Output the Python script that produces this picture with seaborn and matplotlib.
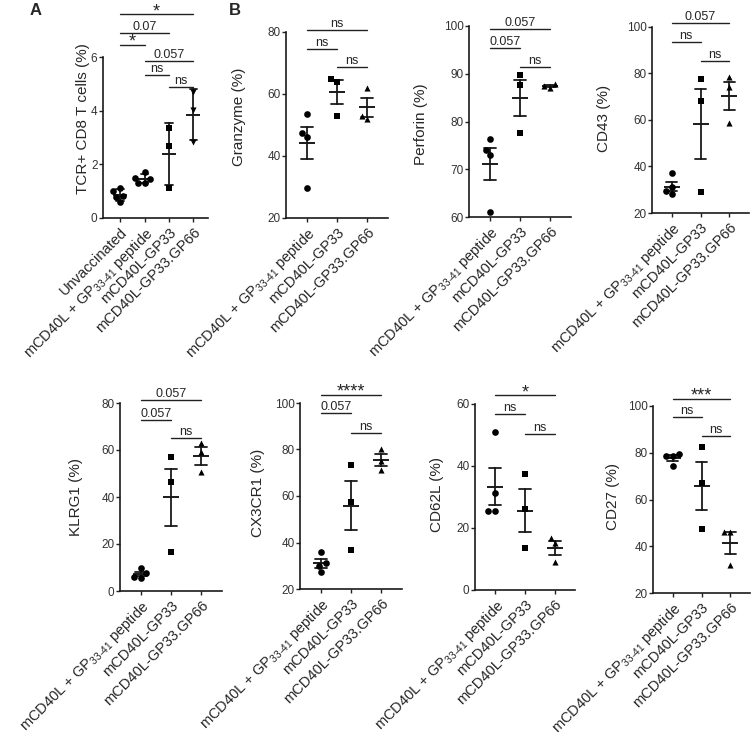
import numpy as np
import pandas as pd
import matplotlib.pyplot as plt
import seaborn as sns

sns.set_style('ticks')
plt.rcParams['font.family'] = ['Liberation Sans', 'DejaVu Sans']
plt.rcParams['mathtext.fontset'] = 'custom'
plt.rcParams['mathtext.rm'] = 'Liberation Sans'
plt.rcParams['mathtext.default'] = 'regular'

###DATA###
pep_label = r'mCD40L + GP$_{\text{33-41}}$ peptide'
labels_a = ['Unvaccinated', pep_label, 'mCD40L-GP33', 'mCD40L-GP33.GP66']
labels_b = [pep_label, 'mCD40L-GP33', 'mCD40L-GP33.GP66']

# panel A: TCR+ CD8 T cells (%)
tcr_unvac = [1.12, 1.0, 0.82, 0.78, 0.58]
tcr_pep = [1.72, 1.5, 1.46, 1.32, 1.3]
tcr_gp33 = [3.34, 2.69, 1.11]
tcr_gp66 = [4.70, 4.02, 2.85]

# panel B: peptide, GP33, GP33.GP66
granzyme = [[53.7, 47.5, 46.0, 29.6], [65.0, 64.0, 53.0], [62.0, 53.0, 52.0]]
perforin = [[76.4, 74.1, 72.9, 61.0], [89.7, 87.6, 77.5], [87.8, 87.4, 87.0]]
cd43 = [[37.0, 31.0, 29.5, 28.0], [77.6, 68.3, 28.9], [78.3, 74.0, 58.6]]
klrg1 = [[9.8, 7.5, 6.0, 5.5], [56.9, 46.5, 16.4], [63.0, 59.0, 50.5]]
cx3cr1 = [[35.8, 31.0, 30.0, 27.2], [73.5, 57.3, 36.9], [80.2, 75.0, 71.2]]
cd62l = [[51.1, 31.2, 25.6, 25.6], [37.4, 26.1, 13.4], [16.7, 15.1, 9.1]]
cd27 = [[79.3, 78.8, 78.5, 74.3], [82.5, 67.2, 47.3], [45.9, 45.9, 32.1]]

# significance: (group1, group2, height, label)
sig_a = [(0, 3, 7.59, '*'), (0, 2, 6.9, '0.07'), (0, 1, 6.46, '*'),
         (1, 3, 5.84, '0.057'), (1, 2, 5.32, 'ns'), (2, 3, 4.89, 'ns')]
sig_granzyme = [(0, 2, 80.75, 'ns'), (0, 1, 74.6, 'ns'), (1, 2, 68.75, 'ns')]
sig_perforin = [(0, 2, 99.3, '0.057'), (0, 1, 95.3, '0.057'), (1, 2, 91.5, 'ns')]
sig_cd43 = [(0, 2, 101.7, '0.057'), (0, 1, 93.6, 'ns'), (1, 2, 85.3, 'ns')]
sig_klrg1 = [(0, 2, 81.1, '0.057'), (0, 1, 72.9, '0.057'), (1, 2, 65.1, 'ns')]
sig_cx3cr1 = [(0, 2, 103.6, '****'), (0, 1, 95.7, '0.057'), (1, 2, 87.1, 'ns')]
sig_cd62l = [(0, 2, 62.9, '*'), (0, 1, 56.8, 'ns'), (1, 2, 50.3, 'ns')]
sig_cd27 = [(0, 2, 103.1, '***'), (0, 1, 95.3, 'ns'), (1, 2, 87.2, 'ns')]

W, H = 751, 736


def add_ax(fig, box):
	'''axes from pixel coordinates (left, right, top, bottom)'''
	left, right, top, bottom = box
	return fig.add_axes([left / W, 1 - bottom / H, (right - left) / W, (bottom - top) / H])


def panel(ax, box, groups, labels, markers, ylabel, lab_xy, ylim, yticks, sig, err, xlim, capsize, msize):
	rows = []
	for i, vals in enumerate(groups):
		for v in vals:
			rows.append((i, v))
	df = pd.DataFrame(rows, columns=['group', 'value'])
	order = list(range(len(groups)))
	for i, m in enumerate(markers):
		sns.swarmplot(data=df[df['group'] == i], x='group', y='value', order=order,
			marker=m, color='black', size=4.8 if m == 'o' else 4.4, ax=ax)
	sns.pointplot(data=df, x='group', y='value', order=order, errorbar=err,
		capsize=capsize, color='#1a1a1a', marker='_', markersize=msize,
		markeredgewidth=1.4, linestyle='none', err_kws={'linewidth': 1.3}, ax=ax)
	ax.set_xlim(*xlim)
	ax.set_ylim(*ylim)
	ax.set_yticks(yticks)
	ax.set_xticks(order)
	ax.set_xticklabels(labels, rotation=45, ha='right', rotation_mode='anchor', fontsize=10.5)
	ax.set_xlabel('')
	ax.set_ylabel(ylabel, fontsize=11)
	# place the y label (pixel centre of the text)
	left, right, top, bottom = box
	ax.yaxis.set_label_coords((lab_xy[0] + 7 - left) / (right - left), (bottom - lab_xy[1]) / (bottom - top))
	ax.tick_params(axis='y', labelsize=8.5, length=3, width=1, pad=1, color='#222222', labelcolor='#333333')
	ax.tick_params(axis='x', length=3, width=1, pad=2, color='#222222')
	for s in ['left', 'bottom']:
		ax.spines[s].set_linewidth(1.2)
		ax.spines[s].set_color('#1a1a1a')
	sns.despine(ax=ax)
	for g1, g2, y, lab in sig:
		ax.plot([g1, g2], [y, y], color='#222222', lw=1, clip_on=False)
		if '*' in lab:
			ax.annotate(lab, xy=((g1 + g2) / 2, y), xytext=(0, -1.5), textcoords='offset points',
				ha='center', va='baseline', fontsize=13, annotation_clip=False)
		else:
			ax.annotate(lab, xy=((g1 + g2) / 2, y), xytext=(0, 0), textcoords='offset points',
				ha='center', va='bottom', fontsize=9, annotation_clip=False)


fig = plt.figure(figsize=(W / 100, H / 100), dpi=100)

box_a = (103, 208, 57, 218)
ax = add_ax(fig, box_a)
panel(ax, box_a, [tcr_unvac, tcr_pep, tcr_gp33, tcr_gp66], labels_a, ['o', 'o', 's', 'v'],
	'TCR+ CD8 T cells (%)', (83, 119), (0, 6), [0, 2, 4, 6], sig_a, 'sd', (-0.7, 3.6), 0.3, 10)

mk = ['o', 's', '^']
xl = (-0.68, 2.68)
specs = [
	((286, 388, 32, 218), granzyme, 'Granzyme (%)', (239, 117), (20, 80), [20, 40, 60, 80], sig_granzyme),
	((469, 571, 26, 217), perforin, 'Perforin (%)', (421, 124), (60, 100), [60, 70, 80, 90, 100], sig_perforin),
	((652, 749, 27, 213), cd43, 'CD43 (%)', (604, 118), (20, 100), [20, 40, 60, 80, 100], sig_cd43),
	((120, 222, 403, 591), klrg1, 'KLRG1 (%)', (76, 497), (0, 80), [0, 20, 40, 60, 80], sig_klrg1),
	((300, 402, 403, 589), cx3cr1, 'CX3CR1 (%)', (258, 493), (20, 100), [20, 40, 60, 80, 100], sig_cx3cr1),
	((475, 575, 404, 590), cd62l, 'CD62L (%)', (437, 495), (0, 60), [0, 20, 40, 60], sig_cd62l),
	((653, 750, 406, 593), cd27, 'CD27 (%)', (613, 496), (20, 100), [20, 40, 60, 80, 100], sig_cd27),
]
for box, vals, ylab, lab_xy, ylim, yt, sig in specs:
	ax = add_ax(fig, box)
	panel(ax, box, vals, labels_b, mk, ylab, lab_xy, ylim, yt, sig, 'se', xl, 0.4, 12)

fig.text(30 / W, 1 - 3 / H, 'A', fontsize=12, fontweight='bold', va='top')
fig.text(229 / W, 1 - 3 / H, 'B', fontsize=12, fontweight='bold', va='top')

fig.savefig('out.png', dpi=100)
